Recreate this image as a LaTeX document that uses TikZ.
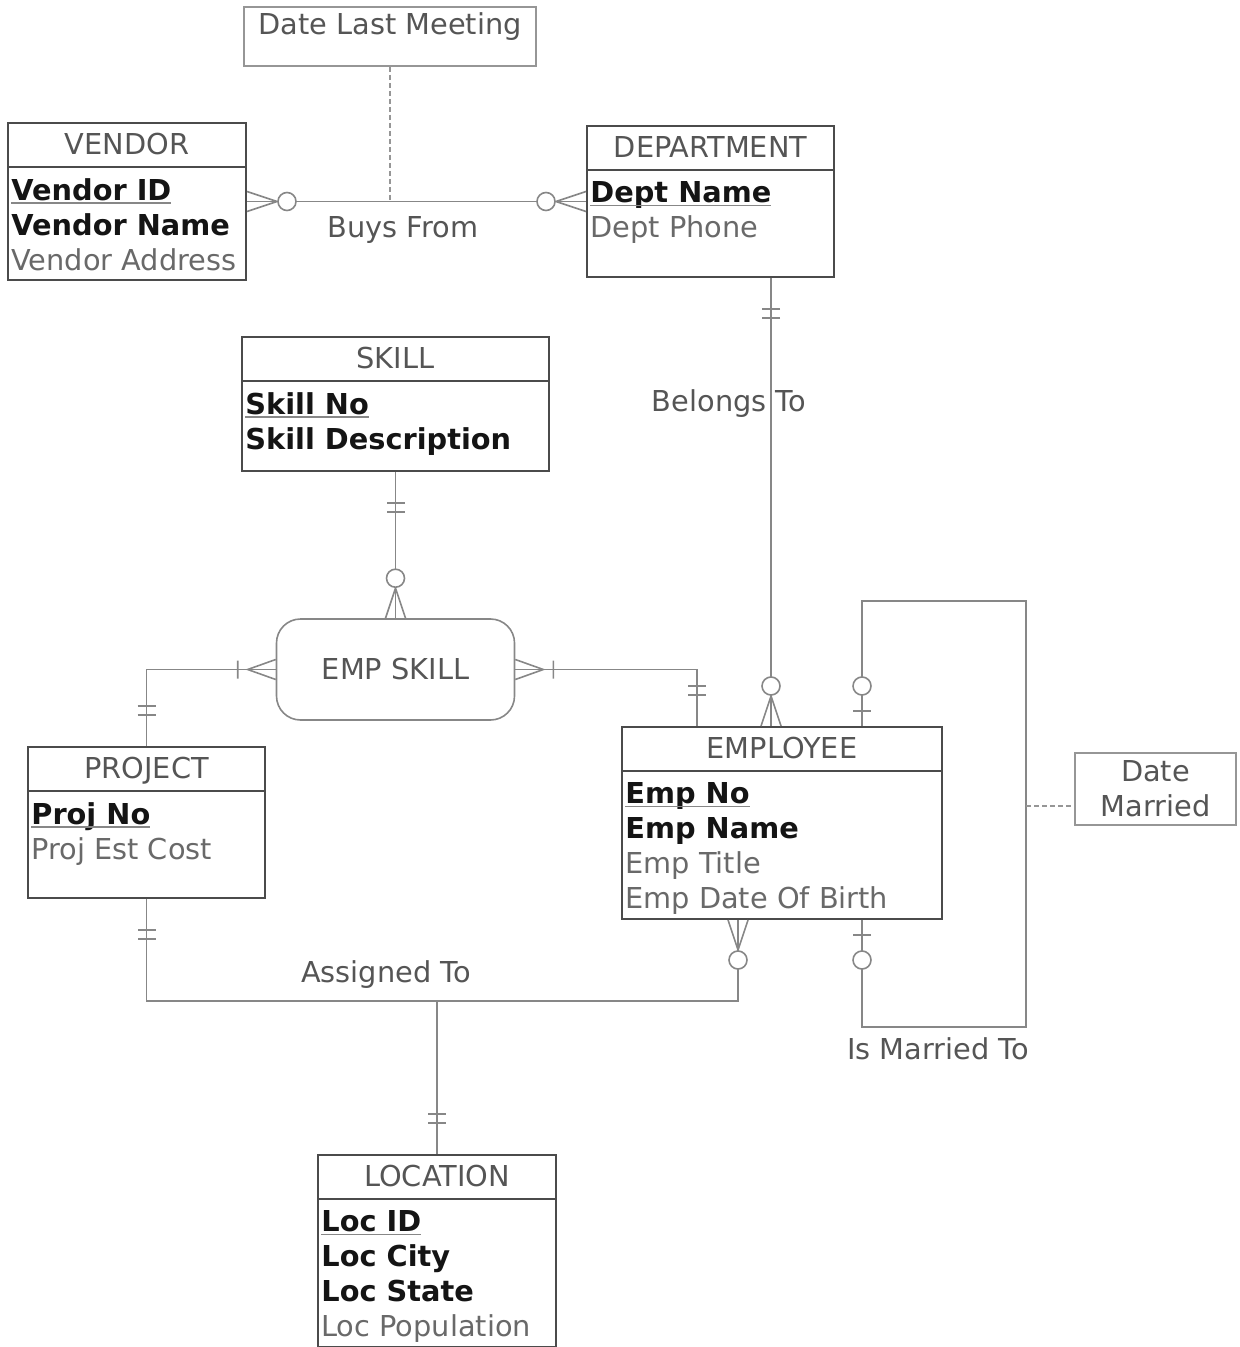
\documentclass[tikz,border=0pt]{standalone}
\usepackage{fontspec}
\setmainfont{DejaVu Sans}
\definecolor{erline}{RGB}{135,135,135}
\definecolor{erbox}{RGB}{75,75,75}
\definecolor{erattrbox}{RGB}{150,150,150}
\definecolor{erhead}{RGB}{85,85,85}
\definecolor{ertext}{RGB}{105,105,105}
\definecolor{erkey}{RGB}{20,20,20}
\usetikzlibrary{calc,fit,positioning}
\newsavebox\pkbox
\newcommand\pkey[1]{\sbox\pkbox{\color{erkey}\textbf{#1}}\rlap{\usebox\pkbox}{\color{erline}\rule[-2pt]{\wd\pkbox}{0.9pt}}}
\newcommand\battr[1]{\textcolor{erkey}{\textbf{#1}}}

\begin{document}
\begin{tikzpicture}[
  x=0.5pt, y=-0.5pt,
  every node/.style={font=\fontsize{14.4}{17.5}\selectfont},
  entity/.style={draw=erbox,line width=1pt,inner sep=0pt},
  enthead/.style={anchor=base,inner sep=0pt,text=erhead},
  entattr/.style={anchor=north west,align=left,inner sep=0pt,text=ertext},
  attrbox/.style={draw=erattrbox,line width=0.8pt,inner sep=0pt,text=erhead},
  assoc/.style={draw=erline,line width=0.8pt,rounded corners=12pt,text=erhead},
  rel/.style={draw=erline,line width=0.8pt},
  attrlink/.style={draw=erattrbox,line width=0.8pt,dash pattern=on 2.5pt off 1.5pt},
  rellabel/.style={anchor=base,inner sep=0pt,text=erhead},
  onlyone/.pic={\draw[rel] (31,-9) -- (31,9) (40,-9) -- (40,9);},
  zeromany/.pic={\draw[rel] (0,-10) -- (30,0) -- (0,10);
                 \draw[rel,fill=white] (40,0) circle (9);},
  zeroone/.pic={\draw[rel] (15,-9) -- (15,9);
                \draw[rel,fill=white] (40,0) circle (9);},
  onemany/.pic={\draw[rel] (0,-10) -- (28,0) -- (0,10) (38,-9) -- (38,9);},
]
  \useasboundingbox (0,0) rectangle (1239,1347);

  % VENDOR
  \node[entity,fit={(8,123) (246,280)}] (vendor) {};
  \node[enthead] (vendorhd) at ($(vendor.north)+(0,32.5)$) {VENDOR};
  \draw[entity] ($(vendor.north west)+(0,45)$) -- ($(vendor.north east)+(0,45)$);
  \node[entattr] (vendorat) at ($(vendor.north west)+(4,56)$)
    {\pkey{Vendor ID}\\\battr{Vendor Name}\\Vendor Address};

  % DEPARTMENT
  \node[entity,fit={(587,126) (834,277)}] (dept) {};
  \node[enthead] (depthd) at ($(dept.north)+(0,32.5)$) {DEPARTMENT};
  \draw[entity] ($(dept.north west)+(0,45)$) -- ($(dept.north east)+(0,45)$);
  \node[entattr] (deptat) at ($(dept.north west)+(4,56)$)
    {\pkey{Dept Name}\\Dept Phone};

  % SKILL
  \node[entity,fit={(242,337) (549,471)}] (skill) {};
  \node[enthead] (skillhd) at ($(skill.north)+(0,32.5)$) {SKILL};
  \draw[entity] ($(skill.north west)+(0,45)$) -- ($(skill.north east)+(0,45)$);
  \node[entattr] (skillat) at ($(skill.north west)+(4,56)$)
    {\pkey{Skill No}\\\battr{Skill Description}};

  % PROJECT
  \node[entity,fit={(28,747) (265,898)}] (proj) {};
  \node[enthead] (projhd) at ($(proj.north)+(0,32.5)$) {PROJECT};
  \draw[entity] ($(proj.north west)+(0,45)$) -- ($(proj.north east)+(0,45)$);
  \node[entattr] (projat) at ($(proj.north west)+(4,56)$)
    {\pkey{Proj No}\\Proj Est Cost};

  % EMPLOYEE
  \node[entity,fit={(622,727) (942,919)}] (emp) {};
  \node[enthead] (emphd) at ($(emp.north)+(0,32.5)$) {EMPLOYEE};
  \draw[entity] ($(emp.north west)+(0,45)$) -- ($(emp.north east)+(0,45)$);
  \node[entattr] (empat) at ($(emp.north west)+(4,56)$)
    {\pkey{Emp No}\\\battr{Emp Name}\\Emp Title\\Emp Date Of Birth};

  % LOCATION
  \node[entity,fit={(318,1155) (556,1347)}] (loc) {};
  \node[enthead] (lochd) at ($(loc.north)+(0,32.5)$) {LOCATION};
  \draw[entity] ($(loc.north west)+(0,45)$) -- ($(loc.north east)+(0,45)$);
  \node[entattr] (locat) at ($(loc.north west)+(4,56)$)
    {\pkey{Loc ID}\\\battr{Loc City}\\\battr{Loc State}\\Loc Population};

  % EMP SKILL (associative entity)
  \node[assoc,minimum width=119pt,minimum height=50.5pt] (empskill) at (395.5,669.5) {EMP SKILL};

  % relationship attributes
  \node[attrbox,fit={(244,7) (536,66)}] (lastmeet) {};
  \node[rellabel] (lastmeettx) at ($(lastmeet.north)+(0,28)$) {Date Last Meeting};
  \node[attrbox,minimum width=80.5pt,minimum height=36pt,align=center] (datemar) at (1155.5,789) {Date\\Married};

  % Buys From
  \draw[rel] (vendor.east) -- (dept.west);
  \pic at (vendor.east) {zeromany};
  \pic[rotate=180] at (dept.west) {zeromany};
  \draw[attrlink] (lastmeet.south) -- (lastmeet.south |- vendor.east);
  \node[rellabel] (buysfrom) at (403,238) {Buys From};

  % Belongs To
  \coordinate (belongx) at (771,0);
  \draw[rel] (dept.south -| belongx) -- (emp.north -| belongx);
  \pic[rotate=-90] at (dept.south -| belongx) {onlyone};
  \pic[rotate=90] at (emp.north -| belongx) {zeromany};
  \node[rellabel] (belongs) at (729,412) {Belongs To};

  % EMP SKILL links
  \draw[rel] (skill.south) -- (empskill.north);
  \pic[rotate=-90] at (skill.south) {onlyone};
  \pic[rotate=90] at (empskill.north) {zeromany};

  \draw[rel] (empskill.west) -| (proj.north);
  \pic[rotate=180] at (empskill.west) {onemany};
  \pic[rotate=90] at (proj.north) {onlyone};

  \coordinate (skillx) at (697,0);
  \draw[rel] (empskill.east) -| (emp.north -| skillx);
  \pic at (empskill.east) {onemany};
  \pic[rotate=90] at (emp.north -| skillx) {onlyone};

  % Is Married To
  \coordinate (marryx) at (862,0);
  \coordinate (marry) at (1026,806);
  \draw[rel] (emp.north -| marryx) |- (1026,601) -- (1026,1027) -| (emp.south -| marryx);
  \pic[rotate=90] at (emp.north -| marryx) {zeroone};
  \pic[rotate=-90] at (emp.south -| marryx) {zeroone};
  \draw[attrlink] (marry) -- (marry -| datemar.west);
  \node[rellabel] (married) at (938,1059) {Is Married To};

  % Assigned To
  \coordinate (assignx) at (738,0);
  \draw[rel] (proj.south) |- (738,1001) -- (emp.south -| assignx);
  \draw[rel] (loc.north) -- (loc.north |- 0,1001);
  \pic[rotate=-90] at (proj.south) {onlyone};
  \pic[rotate=-90] at (emp.south -| assignx) {zeromany};
  \pic[rotate=90] at (loc.north) {onlyone};
  \node[rellabel] (assigned) at (386,982) {Assigned To};
\end{tikzpicture}
\end{document}
